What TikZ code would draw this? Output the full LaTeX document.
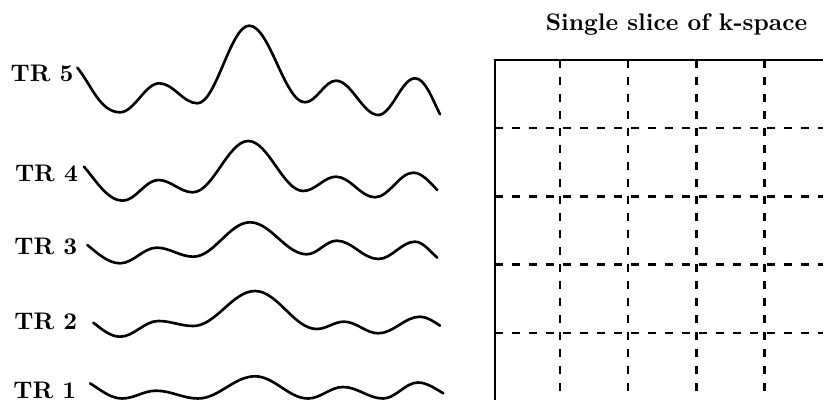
\documentclass[tikz,border=0pt]{standalone}
\begin{document}
\begin{tikzpicture}[x=0.014663cm,y=-0.014663cm,
  wave/.style={line width=1.1pt, line cap=round, line join=round},
  framestyle/.style={line width=1pt},
  gridline/.style={line width=1pt,dash pattern=on 3.4pt off 3.7pt},
  lbl/.style={font=\bfseries, inner sep=0pt, anchor=base east}]
\clip (0,0) rectangle (823,400);
% labels
\node[lbl] (tr5) at (74,81.7) {TR 5};
\node[lbl] (tr4) at (78.3,181.7) {TR 4};
\node[lbl] (tr3) at (77.7,255) {TR 3};
\node[lbl] (tr2) at (77.7,330) {TR 2};
\node[lbl] (tr1) at (76.7,398.6) {TR 1};
\node[font=\bfseries, inner sep=0pt, anchor=base] (title) at (676.5,30.7) {Single slice of k-space};
% TR 5
\draw[wave] (77.3,67.7) .. controls (91.3,84.7) and (100,112.3) .. (120,112.3)
  \foreach \x/\y [remember=\x as \px (initially 120), remember=\y as \py (initially 112.3)] in {159.3/83.3, 197.3/103.3, 249.3/25.7, 305/102.3, 336/80.7, 378.3/115, 415/78.3}
  { .. controls ({\px+0.3642*(\x-\px)},\py) and ({\x-0.3642*(\x-\px)},\y) .. (\x,\y) }
  .. controls (425,78.3) and (432,98.3) .. (440,114.3);
% TR 4
\draw[wave] (84,166.7) .. controls (96,180.7) and (107.7,200.7) .. (122.7,200.7)
  \foreach \x/\y [remember=\x as \px (initially 122.7), remember=\y as \py (initially 200.7)] in {158.3/180, 192.7/192.3, 248.3/141, 303.3/191, 336/176.7, 375/197.3, 413.3/172.7}
  { .. controls ({\px+0.3642*(\x-\px)},\py) and ({\x-0.3642*(\x-\px)},\y) .. (\x,\y) }
  .. controls (422.3,172.7) and (430.3,183) .. (437.3,190);
% TR 3
\draw[wave] (87.3,245) .. controls (97.3,253) and (108,263.3) .. (120,263.3)
  \foreach \x/\y [remember=\x as \px (initially 120), remember=\y as \py (initially 263.3)] in {156.7/247.7, 193.3/256.7, 250/222.3, 306.7/254.3, 336.7/240.7, 378.3/259, 415/241.7}
  { .. controls ({\px+0.3642*(\x-\px)},\py) and ({\x-0.3642*(\x-\px)},\y) .. (\x,\y) }
  .. controls (423,241.7) and (430.3,251.7) .. (437.3,257.7);
% TR 2
\draw[wave] (93.3,322.7) .. controls (101.3,328.7) and (110,336.7) .. (120,336.7)
  \foreach \x/\y [remember=\x as \px (initially 120), remember=\y as \py (initially 336.7)] in {158.3/321, 193.3/326, 255/291, 316.7/329, 344/321.7, 378.3/333.3, 420/316.7}
  { .. controls ({\px+0.3642*(\x-\px)},\py) and ({\x-0.3642*(\x-\px)},\y) .. (\x,\y) }
  .. controls (427,316.7) and (434,321.7) .. (440,325.7);
% TR 1
\draw[wave] (90,383.3) .. controls (100,389.3) and (110,398.5) .. (122,398.5)
  \foreach \x/\y [remember=\x as \px (initially 122), remember=\y as \py (initially 398.5)] in {156/390.7, 198/398.5, 255/376.3, 308/398.5, 343/387, 383/398.5, 418/382.5}
  { .. controls ({\px+0.3642*(\x-\px)},\py) and ({\x-0.3642*(\x-\px)},\y) .. (\x,\y) }
  .. controls (427,382.5) and (436.3,389.3) .. (443.3,393.3);
% k-space grid
\coordinate (gtl) at (495,60);
\foreach \k in {1,2,3,4}{
  \draw[gridline] (495,{60+68.2*\k}) -- (903,{60+68.2*\k});
  \draw[gridline] ({495+65+68.2*(\k-1)},60) -- ({495+65+68.2*(\k-1)},468);
}
\draw[framestyle] (495,468) -- (gtl) -- (903,60);
\end{tikzpicture}
\end{document}
